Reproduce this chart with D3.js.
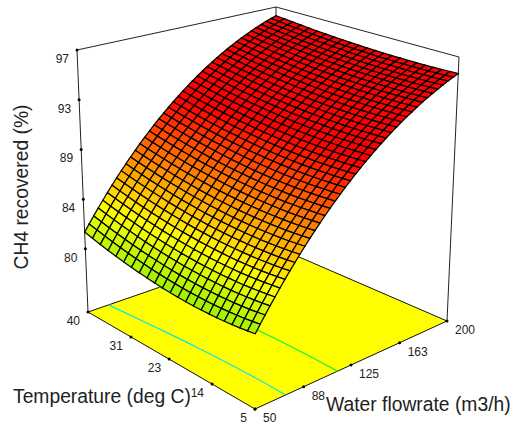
<!DOCTYPE html>
<html lang="en">
<head>
<meta charset="utf-8">
<title>CH4 recovered surface</title>
<style>
    body { margin: 0; background: #fff; }
    text { font-family: "Liberation Sans", Arial, sans-serif; fill: #222; }
    .tick { font-size: 12px; }
    .title { font-size: 19.3px; }
</style>
<script src="https://d3js.org/d3.v7.min.js"></script>
</head>
<body>
<svg id="chart" width="513" height="424"></svg>
<script>
// tick labels
var tempTicks = [40, 31, 23, 14, 5];
var flowTicks = [50, 88, 125, 163, 200];
var recoveredTicks = [97, 92.75, 88.5, 84.25, 80];

// contour lines printed on the floor, flowrate at each temperature tick
var cyanContour = [66.5, 70, 72.5, 74, 74];
var greenContour = [107, 111, 114, 115, 114.5];

// mesh nodes: one row per flowrate step (50..200), one column per temperature step (40..5)
var flowSteps = 40;
var tempSteps = 22;
var recovered = [
[81.43,81.25,81.08,80.92,80.78,80.65,80.54,80.43,80.35,80.27,80.21,80.16,80.13,80.11,80.10,80.11,80.13,80.16,80.21,80.27,80.34,80.43,80.53],
[82.01,81.83,81.66,81.51,81.37,81.24,81.13,81.03,80.94,80.87,80.81,80.76,80.72,80.70,80.70,80.70,80.72,80.75,80.80,80.86,80.93,81.02,81.12],
[82.57,82.39,82.23,82.08,81.94,81.81,81.70,81.60,81.52,81.44,81.38,81.34,81.30,81.28,81.27,81.28,81.30,81.33,81.37,81.43,81.50,81.59,81.69],
[83.13,82.95,82.79,82.64,82.51,82.38,82.27,82.17,82.09,82.02,81.96,81.91,81.88,81.86,81.85,81.86,81.87,81.90,81.95,82.01,82.08,82.16,82.25],
[83.67,83.50,83.34,83.19,83.06,82.93,82.82,82.73,82.64,82.57,82.51,82.47,82.43,82.41,82.41,82.41,82.43,82.46,82.50,82.56,82.63,82.71,82.80],
[84.21,84.04,83.88,83.74,83.60,83.48,83.38,83.28,83.20,83.13,83.07,83.02,82.99,82.97,82.96,82.97,82.98,83.01,83.06,83.11,83.18,83.26,83.35],
[84.73,84.56,84.41,84.26,84.13,84.01,83.91,83.81,83.73,83.66,83.61,83.56,83.53,83.51,83.50,83.50,83.52,83.55,83.59,83.64,83.71,83.79,83.88],
[85.25,85.09,84.93,84.79,84.66,84.54,84.44,84.35,84.27,84.20,84.14,84.10,84.06,84.04,84.04,84.04,84.06,84.08,84.12,84.18,84.24,84.31,84.40],
[85.75,85.59,85.44,85.30,85.17,85.06,84.95,84.86,84.78,84.71,84.66,84.61,84.58,84.56,84.55,84.56,84.57,84.60,84.64,84.69,84.75,84.82,84.91],
[86.24,86.08,85.93,85.79,85.67,85.56,85.45,85.36,85.29,85.22,85.16,85.12,85.09,85.07,85.06,85.06,85.08,85.10,85.14,85.19,85.25,85.32,85.41],
[86.72,86.56,86.42,86.28,86.16,86.05,85.95,85.86,85.78,85.71,85.66,85.62,85.58,85.56,85.56,85.56,85.57,85.60,85.63,85.68,85.74,85.81,85.90],
[87.19,87.03,86.89,86.76,86.64,86.53,86.43,86.34,86.26,86.20,86.14,86.10,86.07,86.05,86.04,86.04,86.06,86.08,86.12,86.16,86.22,86.29,86.37],
[87.65,87.50,87.36,87.23,87.11,87.00,86.90,86.81,86.74,86.67,86.62,86.58,86.55,86.53,86.52,86.52,86.53,86.56,86.59,86.64,86.69,86.76,86.84],
[88.10,87.95,87.81,87.68,87.56,87.46,87.36,87.28,87.20,87.14,87.09,87.04,87.01,86.99,86.98,86.99,87.00,87.02,87.05,87.10,87.16,87.22,87.30],
[88.54,88.39,88.26,88.13,88.01,87.91,87.81,87.73,87.66,87.59,87.54,87.50,87.47,87.45,87.44,87.44,87.45,87.47,87.51,87.55,87.61,87.67,87.75],
[88.97,88.83,88.69,88.57,88.45,88.35,88.26,88.17,88.10,88.04,87.99,87.95,87.92,87.90,87.89,87.89,87.90,87.92,87.95,87.99,88.05,88.11,88.18],
[89.39,89.25,89.12,88.99,88.88,88.78,88.69,88.61,88.54,88.47,88.42,88.38,88.35,88.33,88.32,88.32,88.33,88.35,88.39,88.43,88.48,88.54,88.61],
[89.79,89.65,89.52,89.40,89.29,89.19,89.10,89.02,88.95,88.89,88.84,88.80,88.77,88.75,88.74,88.74,88.75,88.77,88.80,88.84,88.89,88.95,89.02],
[90.19,90.05,89.92,89.81,89.70,89.60,89.51,89.43,89.36,89.31,89.25,89.22,89.19,89.17,89.16,89.16,89.16,89.18,89.21,89.25,89.30,89.36,89.43],
[90.57,90.44,90.31,90.19,90.09,89.99,89.90,89.83,89.76,89.70,89.65,89.61,89.58,89.56,89.55,89.55,89.56,89.58,89.61,89.64,89.69,89.75,89.81],
[90.95,90.82,90.69,90.58,90.48,90.38,90.30,90.22,90.15,90.10,90.05,90.01,89.98,89.96,89.95,89.95,89.96,89.97,90.00,90.04,90.08,90.14,90.20],
[91.31,91.18,91.06,90.95,90.85,90.75,90.67,90.59,90.53,90.47,90.42,90.38,90.36,90.34,90.33,90.32,90.33,90.35,90.37,90.41,90.45,90.50,90.57],
[91.66,91.53,91.41,91.30,91.20,91.11,91.03,90.95,90.89,90.84,90.79,90.75,90.72,90.70,90.69,90.69,90.70,90.71,90.74,90.77,90.81,90.86,90.93],
[92.01,91.89,91.77,91.66,91.56,91.47,91.39,91.32,91.26,91.20,91.15,91.12,91.09,91.07,91.06,91.06,91.06,91.08,91.10,91.13,91.18,91.22,91.28],
[92.34,92.22,92.10,92.00,91.90,91.81,91.73,91.66,91.60,91.55,91.50,91.46,91.43,91.41,91.40,91.40,91.41,91.42,91.44,91.48,91.52,91.56,91.62],
[92.66,92.54,92.43,92.33,92.23,92.14,92.07,91.99,91.93,91.88,91.84,91.80,91.77,91.75,91.74,91.74,91.74,91.76,91.78,91.81,91.85,91.89,91.95],
[92.97,92.85,92.74,92.64,92.55,92.46,92.39,92.32,92.26,92.21,92.16,92.13,92.10,92.08,92.07,92.06,92.07,92.08,92.10,92.13,92.17,92.21,92.27],
[93.27,93.16,93.05,92.95,92.86,92.78,92.70,92.63,92.57,92.52,92.48,92.44,92.41,92.39,92.38,92.38,92.38,92.39,92.41,92.44,92.48,92.52,92.57],
[93.56,93.45,93.34,93.25,93.16,93.08,93.00,92.93,92.88,92.83,92.78,92.75,92.72,92.70,92.69,92.69,92.69,92.70,92.72,92.75,92.78,92.82,92.87],
[93.84,93.73,93.63,93.53,93.45,93.37,93.29,93.23,93.17,93.12,93.08,93.05,93.02,93.00,92.99,92.98,92.98,92.99,93.01,93.04,93.07,93.11,93.16],
[94.11,94.00,93.90,93.81,93.72,93.65,93.58,93.51,93.46,93.41,93.36,93.33,93.30,93.28,93.27,93.27,93.27,93.28,93.30,93.32,93.35,93.39,93.44],
[94.36,94.25,94.16,94.07,93.98,93.91,93.84,93.77,93.72,93.67,93.63,93.60,93.57,93.55,93.54,93.53,93.53,93.54,93.56,93.58,93.61,93.65,93.69],
[94.61,94.51,94.41,94.32,94.24,94.17,94.10,94.04,93.98,93.94,93.90,93.86,93.84,93.82,93.81,93.80,93.80,93.81,93.82,93.85,93.87,93.91,93.95],
[94.85,94.75,94.66,94.57,94.49,94.42,94.35,94.29,94.24,94.19,94.15,94.12,94.09,94.07,94.06,94.06,94.06,94.06,94.08,94.10,94.13,94.16,94.20],
[95.07,94.97,94.88,94.80,94.72,94.65,94.58,94.52,94.47,94.43,94.39,94.36,94.33,94.31,94.30,94.29,94.29,94.30,94.31,94.33,94.36,94.39,94.43],
[95.29,95.20,95.11,95.02,94.95,94.88,94.82,94.76,94.71,94.66,94.62,94.59,94.57,94.55,94.54,94.53,94.53,94.53,94.54,94.56,94.59,94.62,94.65],
[95.49,95.40,95.31,95.23,95.16,95.09,95.03,94.97,94.92,94.88,94.84,94.81,94.78,94.76,94.75,94.74,94.74,94.75,94.76,94.77,94.80,94.82,94.86],
[95.68,95.59,95.51,95.43,95.36,95.29,95.23,95.17,95.13,95.08,95.05,95.02,94.99,94.97,94.96,94.95,94.95,94.95,94.96,94.98,95.00,95.02,95.06],
[95.87,95.78,95.70,95.62,95.55,95.49,95.43,95.38,95.33,95.29,95.25,95.22,95.20,95.17,95.16,95.16,95.15,95.16,95.16,95.18,95.20,95.22,95.26],
[96.04,95.96,95.88,95.80,95.73,95.67,95.61,95.56,95.51,95.47,95.44,95.41,95.38,95.36,95.35,95.34,95.34,95.34,95.35,95.36,95.38,95.40,95.43],
[96.20,96.12,96.04,95.97,95.90,95.84,95.79,95.73,95.69,95.65,95.61,95.58,95.56,95.54,95.53,95.52,95.51,95.51,95.52,95.53,95.55,95.57,95.60]
];

var svg = d3.select("#chart");

// scales go to 0..1 along each box edge, then the box corners place them on screen
var tempScale = d3.scaleLinear().domain([40, 5]).range([0, 1]);
var flowScale = d3.scaleLinear().domain([50, 200]).range([0, 1]);
var heightScale = d3.scaleLinear().domain([74.6, 97]).range([0, 1]);
var colorScale = d3.scaleLinear()
    .domain([80, 83.2, 87, 90.8])
    .range(["#96f000", "#ffff00", "#ff8000", "#ff0000"])
    .clamp(true);

// box corners, [t][w]: t = 0 at 40 deg, w = 0 at flow 50
var floorBox = [[[88, 312], [276, 247]], [[255, 409], [447, 321]]];
var topBox = [[[77, 50], [276, 7]], [[256, 125], [459, 57]]];

function plane(box, t, w) {
    var a = d3.interpolate(box[0][0], box[0][1])(w);
    var b = d3.interpolate(box[1][0], box[1][1])(w);
    return d3.interpolate(a, b)(t);
}

function project(temp, flow, value) {
    var t = tempScale(temp), w = flowScale(flow);
    var low = plane(floorBox, t, w), high = plane(topBox, t, w);
    return d3.interpolate(low, high)(heightScale(value));
}

var zBase = heightScale.domain()[0];
var zTop = heightScale.domain()[1];
var line = d3.line();

// floor
svg.append("path")
    .attr("d", line([project(40, 50, zBase), project(5, 50, zBase), project(5, 200, zBase), project(40, 200, zBase)]) + "Z")
    .attr("fill", "#ffff00")
    .attr("stroke", "#111")
    .attr("stroke-width", 1);

// contours on the floor
[[cyanContour, "#00e8e8"], [greenContour, "#10f048"]].forEach(function(c) {
    svg.append("path")
        .attr("d", d3.line().curve(d3.curveMonotoneX)(tempTicks.map(function(t, i) {
            return project(t, c[0][i], zBase);
        })))
        .attr("fill", "none")
        .attr("stroke", c[1])
        .attr("stroke-width", 1.2);
});

// box wireframe
var frame = [
    [[40, 50, zBase], [40, 50, zTop]],
    [[5, 200, zBase], [5, 200, zTop]],
    [[40, 200, zBase], [40, 200, zTop]],
    [[40, 50, zTop], [40, 200, zTop]],
    [[40, 200, zTop], [5, 200, zTop]]
];
svg.selectAll(".frame").data(frame).join("path")
    .attr("class", "frame")
    .attr("d", function(d) { return line(d.map(function(p) { return project(p[0], p[1], p[2]); })); })
    .attr("fill", "none")
    .attr("stroke", "#222")
    .attr("stroke-width", 1);

// surface, painted from the back corner forward
var tempAt = function(j) { return 40 - j * 35 / tempSteps; };
var flowAt = function(i) { return 50 + i * 150 / flowSteps; };
var cells = [];
for (var i = flowSteps - 1; i >= 0; i--) {
    for (var j = 0; j < tempSteps; j++) {
        cells.push({i: i, j: j});
    }
}
svg.append("g").selectAll("path").data(cells).join("path")
    .attr("d", function(d) {
        var nodes = [[d.i, d.j], [d.i, d.j + 1], [d.i + 1, d.j + 1], [d.i + 1, d.j]];
        return line(nodes.map(function(n) {
            return project(tempAt(n[1]), flowAt(n[0]), recovered[n[0]][n[1]]);
        })) + "Z";
    })
    .attr("fill", function(d) {
        var mean = d3.mean([recovered[d.i][d.j], recovered[d.i][d.j + 1], recovered[d.i + 1][d.j + 1], recovered[d.i + 1][d.j]]);
        return colorScale(mean);
    })
    .attr("stroke", "#000")
    .attr("stroke-width", 1.25);

// ticks and their labels
function ticks(data, place, dx, dy, anchor, label) {
    var g = svg.append("g");
    g.selectAll("circle").data(data).join("circle")
        .attr("cx", function(d) { return place(d)[0]; })
        .attr("cy", function(d) { return place(d)[1]; })
        .attr("r", 1.5)
        .attr("fill", "#000");
    g.selectAll("text").data(data).join("text")
        .attr("class", "tick")
        .attr("x", function(d) { return place(d)[0] + dx; })
        .attr("y", function(d) { return place(d)[1] + dy; })
        .attr("text-anchor", anchor)
        .text(label);
}
var whole = d3.format(".0f");
ticks(recoveredTicks, function(d) { return project(40, 50, d); }, -8, 13, "end", whole);
ticks(tempTicks, function(d) { return project(d, 50, zBase); }, -8, 13, "end", whole);
ticks(flowTicks, function(d) { return project(5, d, zBase); }, 8, 13, "start", whole);

// axis titles
svg.append("text").attr("class", "title")
    .attr("x", 13).attr("y", 403)
    .text("Temperature (deg C)");
svg.append("text").attr("class", "title")
    .attr("x", 326).attr("y", 411)
    .text("Water flowrate (m3/h)");
svg.append("text").attr("class", "title")
    .attr("transform", "translate(28,187) rotate(-90)")
    .attr("text-anchor", "middle")
    .text("CH4 recovered (%)");
</script>
</body>
</html>
